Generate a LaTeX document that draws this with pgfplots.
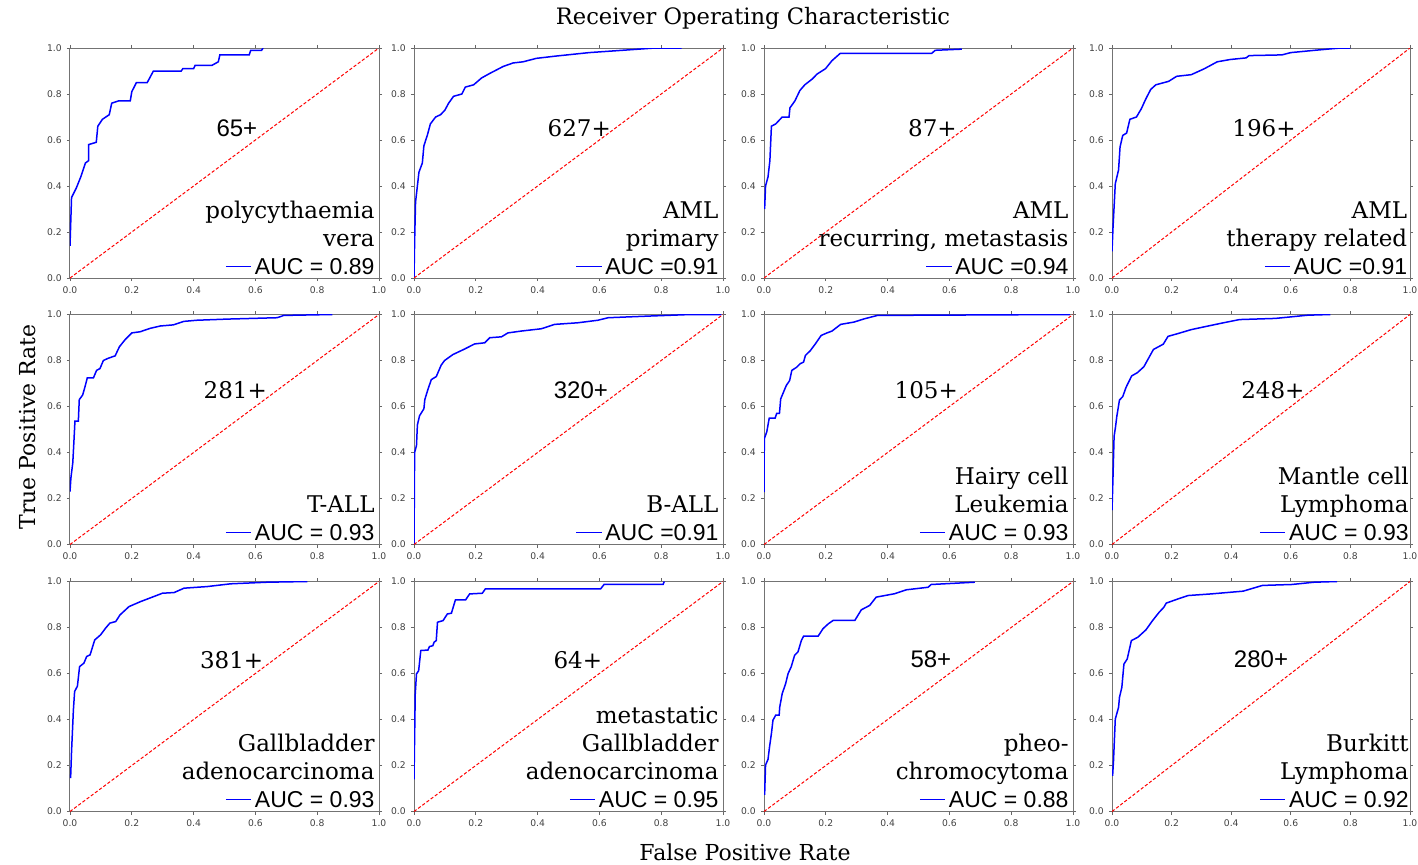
\documentclass[border=0pt]{standalone}
\usepackage{fontspec}
\setmainfont{DejaVu Serif}
\newfontfamily\sansf{Liberation Sans}
\newfontfamily\tickfont{DejaVu Sans}
\usepackage{pgfplots}
\pgfplotsset{compat=1.18}

\newcommand{\auc}[1]{{\sansf\textcolor{blue}{\rule[0.32em]{1.1em}{0.6pt}}\,AUC #1}}

\pgfplotsset{
  roc/.style={
    scale only axis, width=154.5pt, height=115pt, anchor=south west,
    xmin=0, xmax=1, ymin=0, ymax=1,
    xtick={0,0.2,0.4,0.6,0.8,1}, ytick={0,0.2,0.4,0.6,0.8,1},
    tick align=outside, major tick length=1.6pt,
    tick style={black!60, line width=0.4pt},
    axis line style={black!55, line width=0.5pt},
    ticklabel style={font=\tickfont\fontsize{4.6}{5}\selectfont, text=black!75},
    /pgf/number format/assume math mode=true,
    /pgf/number format/.cd, fixed, fixed zerofill, precision=1, /pgfplots/.cd,
    xticklabel style={yshift=1pt}, yticklabel style={xshift=1pt},
  },
  % last column: a little narrower so its right-hand labels stay on the page
  roclast/.style={roc, width=149pt},
}
\tikzset{
  curve/.style={blue, line width=0.75pt},
  chance/.style={red, line width=0.5pt, dash pattern=on 1.6pt off 1pt},
  big/.style={font=\fontsize{11.5}{14}\selectfont},
  lbl/.style={anchor=south east, align=right, inner sep=0.5pt, font=\fontsize{11.5}{14}\selectfont},
}

\begin{document}
\begin{tikzpicture}
\useasboundingbox (0,0) rectangle (709pt,432pt);

% ---------- row 1 ----------
\begin{axis}[roc, at={(35pt,293pt)}]
\addplot[curve] coordinates {(0,0.14) (0.005,0.35) (0.02,0.39) (0.035,0.44) (0.05,0.50) (0.06,0.51) (0.06,0.58) (0.085,0.59) (0.09,0.66) (0.105,0.69) (0.127,0.71) (0.135,0.76) (0.157,0.77) (0.195,0.77) (0.2,0.81) (0.215,0.85) (0.25,0.85) (0.27,0.90) (0.36,0.90) (0.365,0.91) (0.4,0.91) (0.405,0.925) (0.46,0.925) (0.48,0.94) (0.485,0.97) (0.58,0.97) (0.585,0.99) (0.62,0.99) (0.625,1.0)};
\addplot[chance] coordinates {(0,0) (1,1)};
\node[font=\sansf\fontsize{12}{14}\selectfont] at (axis cs:0.54,0.65) {65+};
\node[lbl] at (rel axis cs:0.99,0.01) {polycythaemia\\vera\\\auc{= 0.89}};
\end{axis}

\begin{axis}[roc, at={(207pt,293pt)}]
\addplot[curve] coordinates {(0,0) (0.002,0.16) (0.005,0.33) (0.016,0.46) (0.027,0.50) (0.032,0.575) (0.043,0.62) (0.053,0.67) (0.07,0.70) (0.086,0.71) (0.10,0.73) (0.112,0.76) (0.128,0.79) (0.155,0.80) (0.166,0.83) (0.193,0.84) (0.219,0.87) (0.246,0.89) (0.289,0.92) (0.321,0.935) (0.353,0.94) (0.396,0.955) (0.46,0.965) (0.567,0.98) (0.674,0.99) (0.78,1.0) (0.866,1.0)};
\addplot[chance] coordinates {(0,0) (1,1)};
\node[big] at (axis cs:0.535,0.65) {627+};
\node[lbl] at (rel axis cs:0.99,0.01) {AML\\primary\\\auc{=0.91}};
\end{axis}

\begin{axis}[roc, at={(382pt,293pt)}]
\addplot[curve] coordinates {(0.002,0.30) (0.005,0.40) (0.013,0.44) (0.019,0.51) (0.024,0.66) (0.038,0.67) (0.059,0.70) (0.081,0.70) (0.084,0.74) (0.10,0.77) (0.116,0.815) (0.132,0.84) (0.156,0.865) (0.172,0.887) (0.199,0.91) (0.22,0.945) (0.247,0.977) (0.543,0.977) (0.554,0.99) (0.64,0.995)};
\addplot[chance] coordinates {(0,0) (1,1)};
\node[big] at (axis cs:0.545,0.65) {87+};
\node[lbl] at (rel axis cs:0.99,0.01) {AML\\recurring, metastasis\\\auc{=0.94}};
\end{axis}

\begin{axis}[roclast, at={(556pt,293pt)}]
\addplot[curve] coordinates {(0,0.116) (0.003,0.21) (0.011,0.41) (0.022,0.47) (0.027,0.57) (0.036,0.62) (0.049,0.63) (0.06,0.69) (0.082,0.70) (0.098,0.735) (0.114,0.78) (0.13,0.82) (0.147,0.84) (0.19,0.855) (0.217,0.877) (0.266,0.884) (0.31,0.91) (0.353,0.94) (0.397,0.95) (0.45,0.957) (0.46,0.967) (0.57,0.97) (0.60,0.98) (0.68,0.99) (0.766,1.0) (0.8,1.0)};
\addplot[chance] coordinates {(0,0) (1,1)};
\node[big] at (axis cs:0.51,0.65) {196+};
\node[lbl] at (rel axis cs:0.995,0.01) {AML\\therapy related\\\auc{=0.91}};
\end{axis}

% ---------- row 2 ----------
\begin{axis}[roc, at={(35pt,159.75pt)}]
\addplot[curve] coordinates {(0,0.23) (0.003,0.29) (0.009,0.355) (0.013,0.456) (0.016,0.536) (0.027,0.536) (0.03,0.63) (0.041,0.65) (0.049,0.688) (0.056,0.725) (0.076,0.725) (0.086,0.757) (0.097,0.765) (0.108,0.80) (0.124,0.81) (0.146,0.82) (0.16,0.86) (0.178,0.89) (0.2,0.92) (0.227,0.925) (0.26,0.94) (0.292,0.95) (0.335,0.955) (0.368,0.97) (0.41,0.975) (0.508,0.98) (0.67,0.986) (0.692,0.996) (0.849,1.0)};
\addplot[chance] coordinates {(0,0) (1,1)};
\node[big] at (axis cs:0.535,0.67) {281+};
\node[lbl] at (rel axis cs:0.99,0.01) {T-ALL\\\auc{= 0.93}};
\end{axis}

\begin{axis}[roc, at={(207pt,159.75pt)}]
\addplot[curve] coordinates {(0,0) (0.002,0.40) (0.008,0.43) (0.011,0.52) (0.018,0.56) (0.032,0.59) (0.035,0.63) (0.045,0.674) (0.056,0.717) (0.072,0.73) (0.088,0.78) (0.099,0.80) (0.126,0.826) (0.164,0.85) (0.196,0.872) (0.229,0.877) (0.245,0.899) (0.283,0.903) (0.304,0.92) (0.347,0.928) (0.412,0.938) (0.455,0.957) (0.53,0.964) (0.595,0.975) (0.628,0.986) (0.757,0.993) (0.876,0.999) (0.995,1.0)};
\addplot[chance] coordinates {(0,0) (1,1)};
\node[font=\sansf\fontsize{12}{14}\selectfont] at (axis cs:0.54,0.67) {320+};
\node[lbl] at (rel axis cs:0.99,0.01) {B-ALL\\\auc{=0.91}};
\end{axis}

\begin{axis}[roc, at={(382pt,159.75pt)}]
\addplot[curve] coordinates {(0,0.228) (0.001,0.46) (0.009,0.49) (0.017,0.55) (0.036,0.55) (0.041,0.57) (0.05,0.57) (0.054,0.633) (0.063,0.662) (0.072,0.691) (0.083,0.713) (0.09,0.757) (0.106,0.771) (0.117,0.786) (0.128,0.793) (0.134,0.822) (0.15,0.843) (0.166,0.872) (0.185,0.909) (0.204,0.92) (0.22,0.928) (0.248,0.957) (0.291,0.967) (0.324,0.981) (0.367,0.996) (0.99,1.0)};
\addplot[chance] coordinates {(0,0) (1,1)};
\node[big] at (axis cs:0.525,0.67) {105+};
\node[lbl] at (rel axis cs:0.99,0.01) {Hairy cell\\Leukemia\\\auc{= 0.93}};
\end{axis}

\begin{axis}[roclast, at={(556pt,159.75pt)}]
\addplot[curve] coordinates {(0,0.149) (0.003,0.28) (0.007,0.47) (0.012,0.513) (0.016,0.556) (0.025,0.628) (0.036,0.643) (0.047,0.683) (0.066,0.733) (0.085,0.747) (0.107,0.773) (0.118,0.799) (0.139,0.848) (0.172,0.871) (0.188,0.905) (0.221,0.917) (0.265,0.934) (0.308,0.946) (0.374,0.964) (0.428,0.978) (0.548,0.983) (0.657,0.997) (0.733,1.0)};
\addplot[chance] coordinates {(0,0) (1,1)};
\node[big] at (axis cs:0.54,0.67) {248+};
\node[lbl] at (rel axis cs:1.0,0.01) {Mantle cell\\Lymphoma\\\auc{= 0.93}};
\end{axis}

% ---------- row 3 ----------
\begin{axis}[roc, at={(35pt,26.25pt)}]
\addplot[curve] coordinates {(0.002,0.145) (0.005,0.26) (0.011,0.442) (0.015,0.522) (0.024,0.545) (0.031,0.63) (0.045,0.645) (0.054,0.674) (0.065,0.681) (0.08,0.746) (0.099,0.768) (0.115,0.797) (0.129,0.819) (0.148,0.826) (0.162,0.855) (0.191,0.891) (0.229,0.913) (0.272,0.935) (0.299,0.949) (0.337,0.952) (0.369,0.971) (0.444,0.978) (0.52,0.99) (0.639,0.997) (0.768,1.0)};
\addplot[chance] coordinates {(0,0) (1,1)};
\node[big] at (axis cs:0.523,0.66) {381+};
\node[lbl] at (rel axis cs:0.99,0.01) {Gallbladder\\adenocarcinoma\\\auc{= 0.93}};
\end{axis}

\begin{axis}[roc, at={(207pt,26.25pt)}]
\addplot[curve] coordinates {(0,0.14) (0.004,0.511) (0.008,0.598) (0.015,0.612) (0.022,0.70) (0.045,0.702) (0.05,0.717) (0.061,0.721) (0.065,0.736) (0.072,0.743) (0.076,0.823) (0.094,0.83) (0.108,0.859) (0.121,0.862) (0.134,0.92) (0.167,0.92) (0.18,0.946) (0.221,0.949) (0.231,0.968) (0.604,0.968) (0.615,0.987) (0.806,0.987) (0.81,1.0)};
\addplot[chance] coordinates {(0,0) (1,1)};
\node[big] at (axis cs:0.53,0.66) {64+};
\node[lbl] at (rel axis cs:0.99,0.01) {metastatic\\Gallbladder\\adenocarcinoma\\\auc{= 0.95}};
\end{axis}

\begin{axis}[roc, at={(382pt,26.25pt)}]
\addplot[curve] coordinates {(0.002,0.072) (0.005,0.202) (0.013,0.227) (0.018,0.282) (0.024,0.339) (0.029,0.397) (0.038,0.419) (0.049,0.419) (0.051,0.455) (0.059,0.513) (0.07,0.556) (0.078,0.60) (0.088,0.629) (0.099,0.679) (0.11,0.694) (0.121,0.744) (0.128,0.762) (0.175,0.762) (0.191,0.795) (0.208,0.816) (0.224,0.831) (0.294,0.831) (0.315,0.877) (0.342,0.896) (0.363,0.932) (0.423,0.947) (0.461,0.964) (0.531,0.975) (0.541,0.987) (0.682,0.997)};
\addplot[chance] coordinates {(0,0) (1,1)};
\node[font=\sansf\fontsize{12}{14}\selectfont] at (axis cs:0.54,0.66) {58+};
\node[lbl] at (rel axis cs:0.99,0.01) {pheo-\\chromocytoma\\\auc{= 0.88}};
\end{axis}

\begin{axis}[roclast, at={(556pt,26.25pt)}]
\addplot[curve] coordinates {(0.002,0.155) (0.005,0.22) (0.011,0.402) (0.022,0.453) (0.025,0.496) (0.033,0.54) (0.04,0.641) (0.051,0.663) (0.065,0.743) (0.087,0.758) (0.114,0.79) (0.136,0.83) (0.158,0.866) (0.174,0.888) (0.182,0.906) (0.212,0.92) (0.255,0.939) (0.332,0.946) (0.44,0.958) (0.505,0.983) (0.603,0.987) (0.679,0.997) (0.755,1.0)};
\addplot[chance] coordinates {(0,0) (1,1)};
\node[font=\sansf\fontsize{12}{14}\selectfont] at (axis cs:0.50,0.66) {280+};
\node[lbl] at (rel axis cs:1.0,0.01) {Burkitt\\Lymphoma\\\auc{= 0.92}};
\end{axis}

% ---------- shared titles ----------
\node[font=\fontsize{11.3}{13}\selectfont] at (376.5pt,423pt) {Receiver Operating Characteristic};
\node[font=\fontsize{11}{13}\selectfont, rotate=90] at (14pt,218.5pt) {True Positive Rate};
\node[font=\fontsize{11}{13}\selectfont] at (372.5pt,6pt) {False Positive Rate};
\end{tikzpicture}
\end{document}
